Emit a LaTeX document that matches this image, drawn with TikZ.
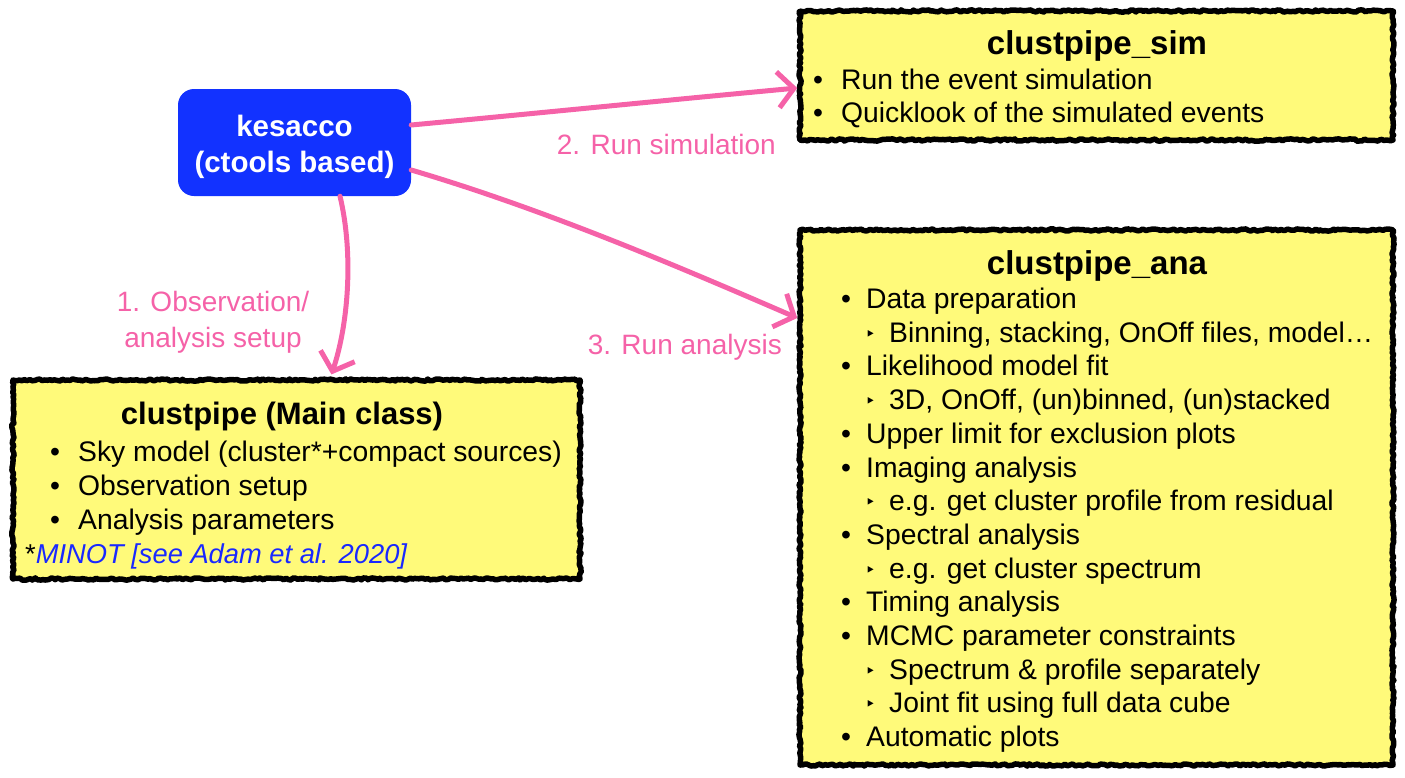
\documentclass[tikz,border=0pt]{standalone}
\usepackage{fontspec}
\setmainfont{Liberation Sans}
\newfontfamily\djv{DejaVu Sans}
\usetikzlibrary{arrows.meta,decorations.pathmorphing}
\definecolor{ylw}{RGB}{255,250,122}
\definecolor{pnk}{RGB}{245,98,168}
\definecolor{kblue}{RGB}{18,50,255}
\definecolor{lblue}{RGB}{25,40,255}
\begin{document}
\begin{tikzpicture}[x=1pt,y=-1pt,
  ybox/.style={draw=black, fill=ylw, line width=5.5pt, line join=round,
    decorate, decoration={random steps, segment length=2.5pt, amplitude=1.1pt},
    inner sep=0pt},
  kbox/.style={fill=kblue, rounded corners=16pt, inner sep=0pt, text=white,
    align=center, font=\fontsize{29.5}{36}\selectfont\bfseries},
  body/.style={font=\fontsize{28.3}{34}\selectfont, anchor=base west, inner sep=0pt},
  subb/.style={font=\djv\fontsize{18}{20}\selectfont, anchor=base west, inner sep=0pt},
  ttl/.style={font=\fontsize{33}{40}\selectfont\bfseries, anchor=base, inner sep=0pt},
  plbl/.style={text=pnk, font=\fontsize{28}{36}\selectfont, inner sep=0pt},
  parrow/.style={draw=pnk, line width=5pt, line cap=round,
    -{Straight Barb[length=16pt,width=36pt]}}
]
\useasboundingbox (0,0) rectangle (1405,777);

% boxes
\node[kbox, minimum width=233pt, minimum height=107pt] (kes) at (294.5,142.5) {};
\node[ybox, minimum width=593pt, minimum height=129pt] (sim) at (1096.5,75.5) {};
\node[ybox, minimum width=593pt, minimum height=535pt] (ana) at (1096.5,497.5) {};
\node[ybox, minimum width=567pt, minimum height=199pt] (main) at (296.5,479.5) {};

% kesacco text
\node[kbox, fill=none, anchor=base] (kesT) at (294.5,172) {kesacco\\(ctools based)};

% sim content
\node[ttl] (simT) at (1097,54) {clustpipe\_sim};
\node[body] (simB1) at (813,89) {•};
\node[body] (simT1) at (841,89) {Run the event simulation};
\node[body] (simB2) at (813,122.5) {•};
\node[body] (simT2) at (841,122.5) {Quicklook of the simulated events};

% ana content
\node[ttl] (anaT) at (1097,274) {clustpipe\_ana};
\foreach \lv/\tx [count=\i] in {1/{Data preparation},
  2/{Binning, stacking, OnOff files, model…},
  1/{Likelihood model fit},
  2/{3D, OnOff, (un)binned, (un)stacked},
  1/{Upper limit for exclusion plots},
  1/{Imaging analysis},
  2/{e.g. get cluster profile from residual},
  1/{Spectral analysis},
  2/{e.g. get cluster spectrum},
  1/{Timing analysis},
  1/{MCMC parameter constraints},
  2/{Spectrum \& profile separately},
  2/{Joint fit using full data cube},
  1/{Automatic plots}}{
  \pgfmathsetmacro\yy{308.5+(\i-1)*33.7}
  \ifnum\lv=1
    \node[body] (anaB\i) at (841,\yy) {•};
    \node[body] (anaL\i) at (866,\yy) {\tx};
  \else
    \node[subb] (anaB\i) at (865,\yy-2) {‣};
    \node[body] (anaL\i) at (889,\yy) {\tx};
  \fi
}

% main content
\node[ttl, font=\fontsize{31}{38}\selectfont\bfseries] (mainT) at (282,424) {clustpipe (Main class)};
\node[body] (mainB1) at (50,461) {•};
\node[body] (mainL1) at (78,461) {Sky model (cluster*+compact sources)};
\node[body] (mainB2) at (50,495) {•};
\node[body] (mainL2) at (78,495) {Observation setup};
\node[body] (mainB3) at (50,529) {•};
\node[body] (mainL3) at (78,529) {Analysis parameters};
\node[body, font=\fontsize{27.3}{34}\selectfont] (mainF) at (25,563) {*{\color{lblue}\itshape MINOT [see Adam et al. 2020]}};

% arrows
\draw[parrow] ([yshift=17.5pt]kes.east) .. controls (540,113) and (668,100) .. ([yshift=-12.5pt]sim.west);
\draw[parrow] ([yshift=-27.5pt]kes.east) .. controls (540,208) and (668,262) .. ([yshift=179.5pt]ana.west);
\draw[parrow, shorten >=3pt] ([xshift=45.5pt]kes.south) .. controls (354,255) and (348,325) .. ([xshift=34pt]main.north);

% labels
\node[plbl, anchor=base east] (l2) at (776,154) {2. Run simulation};
\node[plbl, anchor=base east] (l3) at (782,354) {3. Run analysis};
\node[plbl, anchor=base, align=center] (l1) at (213,347) {1. Observation/\\analysis setup};
\end{tikzpicture}
\end{document}
